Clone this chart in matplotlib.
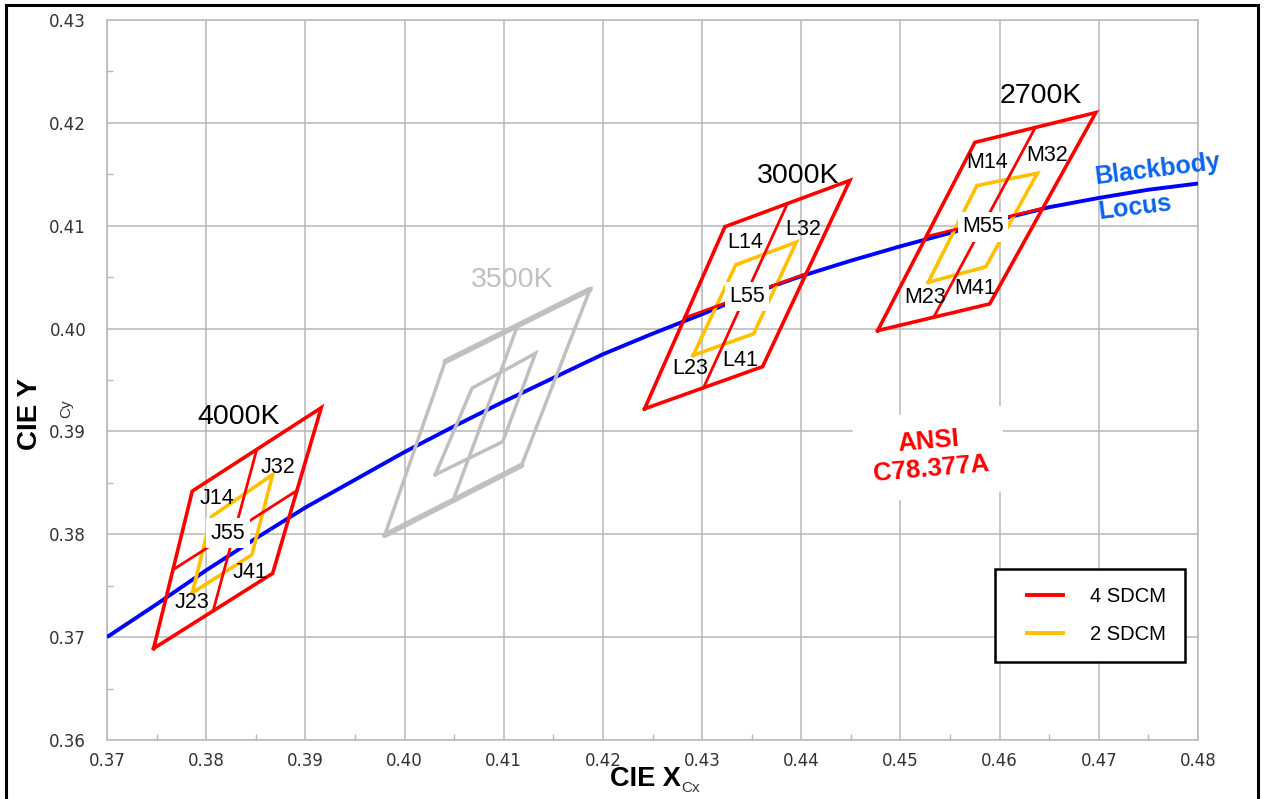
import numpy as np
import matplotlib
matplotlib.use("Agg")
import matplotlib.pyplot as plt
from matplotlib.lines import Line2D
from matplotlib.patches import Rectangle
from matplotlib.legend_handler import HandlerLine2D
from matplotlib.ticker import MultipleLocator, FormatStrFormatter

# ---------------- data ----------------
# Blackbody (Planckian) locus
locus_x = [0.370, 0.375, 0.380, 0.385, 0.390, 0.395, 0.400, 0.405, 0.410, 0.415,
           0.420, 0.425, 0.430, 0.435, 0.440, 0.445, 0.450, 0.455, 0.460, 0.465,
           0.470, 0.475, 0.480]
locus_y = [0.3700, 0.3732, 0.3765, 0.3796, 0.3826, 0.3853, 0.3880, 0.3905, 0.3929, 0.3952,
           0.3975, 0.3995, 0.4014, 0.4034, 0.4051, 0.4066, 0.4080, 0.4093, 0.4106, 0.4118,
           0.4127, 0.4135, 0.4141]

# Quadrangle corners, order: bottom-left, top-left, top-right, bottom-right
q4000_x = [0.3747, 0.3786, 0.3916, 0.3867]
q4000_y = [0.3689, 0.3842, 0.3923, 0.3762]
o4000_x = [0.3786, 0.3805, 0.3867, 0.3846]
o4000_y = [0.3743, 0.3817, 0.3858, 0.3780]

q3500_x = [0.3980, 0.4041, 0.4187, 0.4118]
q3500_y = [0.3799, 0.3968, 0.4038, 0.3867]
i3500_x = [0.4031, 0.4068, 0.4132, 0.4099]
i3500_y = [0.3858, 0.3942, 0.3976, 0.3890]

q3000_x = [0.4242, 0.4323, 0.4449, 0.4361]
q3000_y = [0.3922, 0.4099, 0.4144, 0.3963]
o3000_x = [0.4291, 0.4334, 0.4395, 0.4352]
o3000_y = [0.3974, 0.4062, 0.4084, 0.3995]

q2700_x = [0.4477, 0.4575, 0.4697, 0.4590]
q2700_y = [0.3998, 0.4181, 0.4210, 0.4024]
o2700_x = [0.4528, 0.4577, 0.4638, 0.4586]
o2700_y = [0.4045, 0.4139, 0.4151, 0.4060]

cct_labels = ["4000K", "3500K", "3000K", "2700K"]
cct_x = [0.3833, 0.4108, 0.4397, 0.4642]
cct_y = [0.3914, 0.4047, 0.4148, 0.4226]

bin_labels = ["J32", "J14", "J55", "J41", "J23",
              "L14", "L32", "L55", "L41", "L23",
              "M14", "M32", "M55", "M23", "M41"]
bin_x = [0.3872, 0.3811, 0.3822, 0.3844, 0.3786,
         0.4343, 0.4402, 0.4345, 0.4338, 0.4288,
         0.4587, 0.4648, 0.4583, 0.4525, 0.4575]
bin_y = [0.3865, 0.3835, 0.3801, 0.3763, 0.3734,
         0.4084, 0.4096, 0.4031, 0.3969, 0.3961,
         0.4161, 0.4168, 0.4099, 0.4030, 0.4039]

xticks = [0.37, 0.38, 0.39, 0.40, 0.41, 0.42, 0.43, 0.44, 0.45, 0.46, 0.47, 0.48]
yticks = [0.36, 0.37, 0.38, 0.39, 0.40, 0.41, 0.42, 0.43]

RED = "#ff0000"
ORANGE = "#ffc000"
GRAY = "#c0c0c0"
BLUE = "#0000ff"

plt.rcParams['font.family'] = ['Liberation Sans', 'DejaVu Sans']

fig = plt.figure(figsize=(12.66, 7.99), dpi=100)
ax = fig.add_axes([107/1266, 1-740/799, (1198-107)/1266, (740-20)/799])

ax.set_xlim(0.37, 0.48)
ax.set_ylim(0.36, 0.43)
ax.set_xticks(xticks)
ax.set_yticks(yticks)
ax.xaxis.set_minor_locator(MultipleLocator(0.005))
ax.yaxis.set_minor_locator(MultipleLocator(0.005))
ax.xaxis.set_major_formatter(FormatStrFormatter('%.2f'))
ax.yaxis.set_major_formatter(FormatStrFormatter('%.2f'))
ax.grid(True, which='major', color='#b8b8b8', lw=1.1)
ax.set_axisbelow(True)
for s in ax.spines.values():
    s.set_color('#b8b8b8')
    s.set_linewidth(1.1)
ax.tick_params(which='major', length=0, labelsize=12, labelcolor='#333333')
ax.tick_params(axis='y', which='major', pad=15)
ax.tick_params(axis='x', which='major', pad=9)
ax.tick_params(which='minor', direction='in', length=4, color='#b8b8b8', width=1)
for lab in ax.get_xticklabels() + ax.get_yticklabels():
    lab.set_family('DejaVu Sans')

# locus
ax.plot(locus_x, locus_y, color=BLUE, lw=2.8, zorder=3, solid_capstyle='butt')


def closed(xs, ys):
    return list(xs) + [xs[0]], list(ys) + [ys[0]]


def midlines(xs, ys):
    xs = np.asarray(xs); ys = np.asarray(ys)
    top = ((xs[1] + xs[2]) / 2, (ys[1] + ys[2]) / 2)
    bot = ((xs[0] + xs[3]) / 2, (ys[0] + ys[3]) / 2)
    left = ((xs[0] + xs[1]) / 2, (ys[0] + ys[1]) / 2)
    right = ((xs[2] + xs[3]) / 2, (ys[2] + ys[3]) / 2)
    return (top, bot), (left, right)


# 3500K (gray)
gx, gy = closed(q3500_x, q3500_y)
ax.plot(gx, gy, color=GRAY, lw=2.5, zorder=4, solid_joinstyle='miter')
ax.plot([q3500_x[1], q3500_x[2]], [q3500_y[1], q3500_y[2]], color=GRAY, lw=4.0, zorder=4, solid_capstyle='round')
ax.plot([q3500_x[0], q3500_x[3]], [q3500_y[0], q3500_y[3]], color=GRAY, lw=4.0, zorder=4, solid_capstyle='round')
ix, iy = closed(i3500_x, i3500_y)
ax.plot(ix, iy, color=GRAY, lw=2.5, zorder=4, solid_joinstyle='miter')
(vt, vb), _ = midlines(q3500_x, q3500_y)
ax.plot([vt[0], vb[0]], [vt[1], vb[1]], color=GRAY, lw=2.5, zorder=4)

# orange 2-step quads
for xs, ys in [(o4000_x, o4000_y), (o3000_x, o3000_y), (o2700_x, o2700_y)]:
    cx, cy = closed(xs, ys)
    ax.plot(cx, cy, color=ORANGE, lw=2.6, zorder=5, solid_joinstyle='miter')

# red 4-step quads with midlines
for xs, ys in [(q4000_x, q4000_y), (q3000_x, q3000_y), (q2700_x, q2700_y)]:
    cx, cy = closed(xs, ys)
    ax.plot(cx, cy, color=RED, lw=2.6, zorder=6, solid_joinstyle='miter')
    (vt, vb), (hl, hr) = midlines(xs, ys)
    ax.plot([vt[0], vb[0]], [vt[1], vb[1]], color=RED, lw=2.0, zorder=6)
    ax.plot([hl[0], hr[0]], [hl[1], hr[1]], color=RED, lw=2.0, zorder=6)

# CCT labels
for t, x, y in zip(cct_labels, cct_x, cct_y):
    ax.text(x, y, t, fontsize=20.5, ha='center', va='center',
            color=(GRAY if t == "3500K" else 'black'), zorder=8)

# bin labels
for t, x, y in zip(bin_labels, bin_x, bin_y):
    kw = {}
    if t.endswith("55"):
        kw['bbox'] = dict(boxstyle='square,pad=0.2', fc='white', ec='none')
    ax.text(x, y, t, fontsize=15.5, ha='center', va='center', color='black', zorder=9, **kw)

# Blackbody locus label
ax.text(0.47597, 0.41551, "Blackbody", fontsize=18, fontweight='bold', color='#0a64f0',
        ha='center', va='center', rotation=7, rotation_mode='anchor', zorder=9)
ax.text(0.47365, 0.41172, "Locus", fontsize=18, fontweight='bold', color='#0a64f0',
        ha='center', va='center', rotation=7, rotation_mode='anchor', zorder=9)

# ANSI label
ax.text(0.45298, 0.38771, "ANSI\nC78.377A", fontsize=18.5, fontweight='bold', color=RED,
        ha='center', va='center', multialignment='center', rotation=5,
        rotation_mode='anchor', linespacing=1.2, zorder=9,
        bbox=dict(boxstyle='square,pad=0.65', fc='white', ec='none'))

# legend
handles = [Line2D([], [], color=RED, lw=2.8), Line2D([], [], color=ORANGE, lw=2.8)]
leg = ax.legend(handles, ["4 SDCM", "2 SDCM"], loc='upper left',
                bbox_to_anchor=((995 - 107) / 1091, 1 - (569 - 20) / 720),
                borderaxespad=0, fontsize=14.5, handlelength=2.5, handletextpad=1.34,
                labelspacing=0.92, borderpad=0.9, fancybox=False, framealpha=1,
                edgecolor='black', handler_map={Line2D: HandlerLine2D(xpad=0.7)})
leg.get_frame().set_linewidth(1.8)
leg.set_zorder(10)

# axis labels
fig.text(645 / 1266, 1 - 779 / 799, "CIE X", fontsize=19.5, fontweight='bold', ha='center', va='center')
fig.text(691 / 1266, 1 - 788 / 799, "Cx", fontsize=11, ha='center', va='center', color='#333333')
fig.text(30 / 1266, 1 - 414 / 799, "CIE Y", fontsize=20, fontweight='bold', ha='center', va='center',
         rotation=90)
fig.text(66 / 1266, 1 - 409 / 799, "Cy", fontsize=11, ha='center', va='center', rotation=90,
         color='#333333')

# figure border
fig.patches.append(Rectangle((6 / 1266, -0.02), (1258 - 6) / 1266, 1 - 5 / 799 + 0.02,
                             transform=fig.transFigure, fill=False, ec='black', lw=2.2))

fig.savefig("out.png", dpi=100, facecolor='white')
